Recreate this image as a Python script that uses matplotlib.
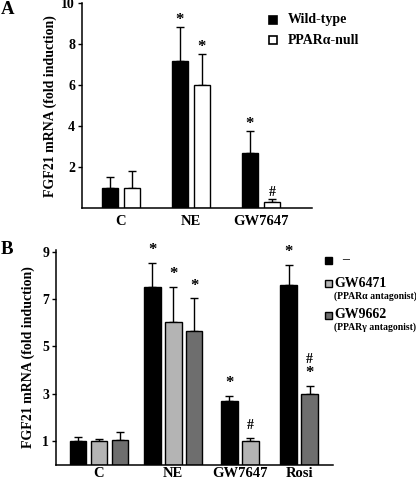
import matplotlib
matplotlib.use('Agg')
import matplotlib.pyplot as plt
from matplotlib.patches import Rectangle

plt.rcParams['font.family'] = ['Liberation Serif', 'DejaVu Serif']
plt.rcParams['font.weight'] = 'bold'
plt.rcParams['axes.labelweight'] = 'bold'

# Panel A data
a_groups = ['C', 'NE', 'GW7647']
a_wt = [1.0, 7.2, 2.71]
a_wt_err = [0.51, 1.65, 1.05]
a_wt_marks = ['', '*', '*']
a_null = [1.0, 6.0, 0.29]
a_null_err = [0.83, 1.55, 0.15]
a_null_marks = ['', '*', '#']

# Panel B data (None = not measured in that group)
b_groups = ['C', 'NE', 'GW7647', 'Rosi']
b_group_pos = [0, 1.0, 1.896, 2.694]
b_ctrl = [1.0, 7.52, 2.69, 7.58]
b_ctrl_err = [0.18, 1.01, 0.23, 0.87]
b_ctrl_marks = ['', '*', '*', '*']
b_gw6471 = [1.0, 6.04, 1.01, None]
b_gw6471_err = [0.10, 1.48, 0.12, None]
b_gw6471_marks = ['', '*', '#', '']
b_gw9662 = [1.04, 5.65, None, 2.99]
b_gw9662_err = [0.35, 1.39, None, 0.35]
b_gw9662_marks = ['', '*', '', '#*']

BLACK = '#000000'
LIGHT = '#b4b4b4'
DARK = '#6e6e6e'

fig = plt.figure(figsize=(4.16, 4.84), dpi=100)


def style_axes(ax, xpad):
    ax.spines['top'].set_visible(False)
    ax.spines['right'].set_visible(False)
    ax.spines['left'].set_linewidth(1.1)
    ax.spines['bottom'].set_linewidth(1.1)
    ax.tick_params(axis='x', length=0, labelsize=10.5, pad=xpad)
    ax.tick_params(axis='y', length=3, width=1, labelsize=10, pad=2)


def draw_bar(ax, x, h, err, color, width, mark, mark_off):
    ax.bar(x, h, width=width, color=color, edgecolor='black', linewidth=1.0, zorder=2)
    ax.errorbar(x, h, yerr=[[0], [err]], fmt='none', ecolor='black',
                elinewidth=1.0, capsize=3, capthick=1.0, zorder=1)
    top = h + err
    for i, ch in enumerate(reversed(mark)):
        ax.annotate(ch, (x, top), xytext=(0, mark_off + i * 10), textcoords='offset points',
                    ha='center', va='center', fontsize=12 if ch == '*' else 10)


# ---- Panel A ----
axA = fig.add_axes([82 / 416, 1 - 208.3 / 484, 230 / 416, 205 / 484])
wA = 0.23
offA = 0.157
for i in range(len(a_groups)):
    draw_bar(axA, i - offA, a_wt[i], a_wt_err[i], BLACK, wA, a_wt_marks[i], 5)
    draw_bar(axA, i + offA, a_null[i], a_null_err[i], 'white', wA, a_null_marks[i], 5)
axA.set_xlim(-0.554, 2.73)
axA.set_ylim(0, 10)
axA.set_yticks([2, 4, 6, 8, 10])
axA.set_xticks(range(len(a_groups)))
axA.set_xticklabels(a_groups)
axA.set_ylabel('FGF21 mRNA (fold induction)', fontsize=10, labelpad=3)
style_axes(axA, 4.5)

# legend A
for k, (c, lab) in enumerate([(BLACK, 'Wild-type'), ('white', 'PPAR\u03b1-null')]):
    yc = 1 - (20 + 20 * k) / 484
    fig.patches.append(Rectangle((268.5 / 416, yc - 4 / 484), 8 / 416, 8 / 484,
                                 transform=fig.transFigure, facecolor=c,
                                 edgecolor='black', linewidth=1.2))
    fig.text(287.5 / 416, yc, lab, fontsize=10, va='center', ha='left')

fig.text(1 / 416, 1 - 10 / 484, 'A', fontsize=13.5, va='center', ha='left')

# ---- Panel B ----
axB = fig.add_axes([56 / 416, 1 - 464.7 / 484, 277 / 416, 214.7 / 484])
wB = 0.222
slot = 0.282
series = [
    (b_ctrl, b_ctrl_err, b_ctrl_marks, BLACK),
    (b_gw6471, b_gw6471_err, b_gw6471_marks, LIGHT),
    (b_gw9662, b_gw9662_err, b_gw9662_marks, DARK),
]
for g, gx in enumerate(b_group_pos):
    present = [s for s in series if s[0][g] is not None]
    n = len(present)
    for j, (vals, errs, marks, col) in enumerate(present):
        x = gx + (j - (n - 1) / 2) * slot
        draw_bar(axB, x, vals[g], errs[g], col, wB, marks[g], 9)
axB.set_xlim(-0.579, 3.15)
axB.set_ylim(0, 9.07)
axB.set_yticks([1, 3, 5, 7, 9])
axB.set_xticks(b_group_pos)
axB.set_xticklabels(b_groups)
axB.set_ylabel('FGF21 mRNA (fold induction)', fontsize=10, labelpad=5)
style_axes(axB, 1.5)

# legend B
leg_items = [(BLACK, '\u2013', None, 260),
             (LIGHT, 'GW6471', '(PPAR\u03b1 antagonist)', 283.5),
             (DARK, 'GW9662', '(PPAR\u03b3 antagonist)', 315)]
for c, lab, sub, ypx in leg_items:
    yc = 1 - ypx / 484
    fig.patches.append(Rectangle((324.5 / 416, yc - 3.5 / 484), 7 / 416, 7 / 484,
                                 transform=fig.transFigure, facecolor=c,
                                 edgecolor='black', linewidth=1.0))
    fig.text((342 if sub is None else 334) / 416, yc, lab, fontsize=10,
             va='center', ha='left')
    if sub:
        fig.text(334.5 / 416, 1 - (ypx + 12.5) / 484, sub, fontsize=7,
                 va='center', ha='left')

fig.text(1 / 416, 1 - 250 / 484, 'B', fontsize=13.5, va='center', ha='left')

fig.savefig('out.png', dpi=100)
